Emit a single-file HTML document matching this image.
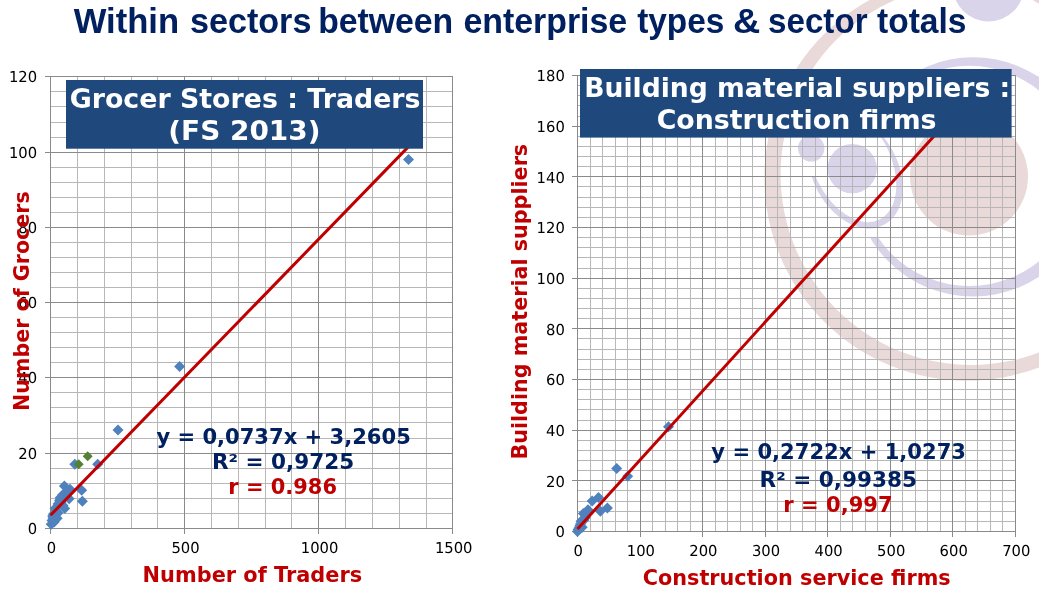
<!DOCTYPE html>
<html lang="en"><head><meta charset="utf-8"><title>Within sectors between enterprise types &amp; sector totals</title>
<style>html,body{margin:0;padding:0;background:#fff;overflow:hidden}svg{display:block}.v{font-family:"DejaVu Sans","Liberation Sans",sans-serif}.t{font-family:"Liberation Sans",sans-serif;font-weight:bold}.b{font-weight:bold}.k{text-rendering:geometricPrecision}</style></head><body>
<svg width="1039" height="600" viewBox="0 0 1039 600">
<rect width="1039" height="600" fill="#fff"/>
<g id="decor">
<clipPath id="cp"><rect x="930" y="0" width="200" height="600"/><rect x="800" y="0" width="200" height="138"/><rect x="800" y="237.5" width="200" height="200"/></clipPath>
<clipPath id="cq"><rect x="861" y="100" width="100" height="200"/><rect x="800" y="177" width="62" height="100"/></clipPath>
<path fill="#EAD9D9" fill-rule="evenodd" d="M764.4000000000001,177.8a202.7,202.7 0 1,0 405.4,0a202.7,202.7 0 1,0 -405.4,0zM780.6,174.5a190.5,190.5 0 1,0 381.0,0a190.5,190.5 0 1,0 -381.0,0z"/>
<circle cx="969" cy="176.5" r="59" fill="#EAD9D9"/>
<g clip-path="url(#cp)"><path fill="#D9D4EA" fill-rule="evenodd" d="M853.5,176.9a119.6,119.6 0 1,0 239.2,0a119.6,119.6 0 1,0 -239.2,0zM859.1999999999999,175.9a110.1,110.1 0 1,0 220.2,0a110.1,110.1 0 1,0 -220.2,0z"/></g>
<circle cx="988.5" cy="-14.2" r="35.7" fill="#D9D4EA"/>
<circle cx="852.2" cy="168.6" r="24.7" fill="#D9D4EA"/>
<circle cx="811.2" cy="148.3" r="13.2" fill="#D9D4EA"/>
<g clip-path="url(#cq)"><path fill="#D9D4EA" fill-rule="evenodd" d="M884.41,224.51A60.86,42.14 61.5 1,0 826.33,117.55A60.86,42.14 61.5 1,0 884.41,224.51zM879.52,219.62A62.01,38.58 63.8 1,0 824.76,108.34A62.01,38.58 63.8 1,0 879.52,219.62z"/></g>
<circle cx="1052" cy="-25" r="31.5" fill="#EAD9D9"/>
</g>
<g id="left">
<path d="M50.5,76.8V528.9M77.5,76.8V528.9M104.5,76.8V528.9M131.5,76.8V528.9M157.5,76.8V528.9M184.5,76.8V528.9M211.5,76.8V528.9M238.5,76.8V528.9M265.5,76.8V528.9M291.5,76.8V528.9M318.5,76.8V528.9M345.5,76.8V528.9M372.5,76.8V528.9M399.5,76.8V528.9M426.5,76.8V528.9M452.5,76.8V528.9M50.6,528.5H452.9M50.6,513.5H452.9M50.6,498.5H452.9M50.6,483.5H452.9M50.6,468.5H452.9M50.6,453.5H452.9M50.6,438.5H452.9M50.6,422.5H452.9M50.6,407.5H452.9M50.6,392.5H452.9M50.6,377.5H452.9M50.6,362.5H452.9M50.6,347.5H452.9M50.6,332.5H452.9M50.6,317.5H452.9M50.6,302.5H452.9M50.6,287.5H452.9M50.6,272.5H452.9M50.6,257.5H452.9M50.6,242.5H452.9M50.6,227.5H452.9M50.6,212.5H452.9M50.6,197.5H452.9M50.6,182.5H452.9M50.6,167.5H452.9M50.6,152.5H452.9M50.6,137.5H452.9M50.6,122.5H452.9M50.6,106.5H452.9M50.6,91.5H452.9M50.6,76.5H452.9" stroke="#b7b7b7" stroke-width="1" fill="none" shape-rendering="crispEdges"/>
<path d="M50.5,76.8V533.9M184.5,76.8V533.9M318.5,76.8V533.9M452.5,76.8V533.9M45.1,528.5H452.9M45.1,453.5H452.9M45.1,377.5H452.9M45.1,302.5H452.9M45.1,227.5H452.9M45.1,152.5H452.9M45.1,76.5H452.9" stroke="#8a8a8a" stroke-width="1" fill="none" shape-rendering="crispEdges"/>
<text class="v k" transform="translate(37.1,534.3) scale(.985,1)" font-size="15" text-anchor="end" fill="#000">0</text>
<text class="v k" transform="translate(37.1,459.3) scale(.985,1)" font-size="15" text-anchor="end" fill="#000">20</text>
<text class="v k" transform="translate(37.1,383.3) scale(.985,1)" font-size="15" text-anchor="end" fill="#000">40</text>
<text class="v k" transform="translate(37.1,308.3) scale(.985,1)" font-size="15" text-anchor="end" fill="#000">60</text>
<text class="v k" transform="translate(37.1,233.3) scale(.985,1)" font-size="15" text-anchor="end" fill="#000">80</text>
<text class="v k" transform="translate(37.1,158.3) scale(.985,1)" font-size="15" text-anchor="end" fill="#000">100</text>
<text class="v k" transform="translate(37.1,82.3) scale(.985,1)" font-size="15" text-anchor="end" fill="#000">120</text>
<text class="v k" transform="translate(51.4,553.1) scale(.985,1)" font-size="15" text-anchor="middle" fill="#000">0</text>
<text class="v k" transform="translate(185.5,553.1) scale(.985,1)" font-size="15" text-anchor="middle" fill="#000">500</text>
<text class="v k" transform="translate(319.6,553.1) scale(.985,1)" font-size="15" text-anchor="middle" fill="#000">1000</text>
<text class="v k" transform="translate(453.7,553.1) scale(.985,1)" font-size="15" text-anchor="middle" fill="#000">1500</text>
<path d="M408.5,154.0l5.5,5.5l-5.5,5.5l-5.5,-5.5z" fill="#4F81BD"/>
<path d="M179.6,361.0l5.5,5.5l-5.5,5.5l-5.5,-5.5z" fill="#4F81BD"/>
<path d="M118.0,424.5l5.5,5.5l-5.5,5.5l-5.5,-5.5z" fill="#4F81BD"/>
<path d="M74.8,458.7l5.5,5.5l-5.5,5.5l-5.5,-5.5z" fill="#4F81BD"/>
<path d="M97.7,458.7l5.5,5.5l-5.5,5.5l-5.5,-5.5z" fill="#4F81BD"/>
<path d="M64.4,480.5l5.5,5.5l-5.5,5.5l-5.5,-5.5z" fill="#4F81BD"/>
<path d="M70.0,483.8l5.5,5.5l-5.5,5.5l-5.5,-5.5z" fill="#4F81BD"/>
<path d="M81.7,484.7l5.5,5.5l-5.5,5.5l-5.5,-5.5z" fill="#4F81BD"/>
<path d="M82.4,495.8l5.5,5.5l-5.5,5.5l-5.5,-5.5z" fill="#4F81BD"/>
<path d="M69.2,493.2l5.5,5.5l-5.5,5.5l-5.5,-5.5z" fill="#4F81BD"/>
<path d="M60.2,492.2l5.5,5.5l-5.5,5.5l-5.5,-5.5z" fill="#4F81BD"/>
<path d="M62.5,489.5l5.5,5.5l-5.5,5.5l-5.5,-5.5z" fill="#4F81BD"/>
<path d="M66.2,486.5l5.5,5.5l-5.5,5.5l-5.5,-5.5z" fill="#4F81BD"/>
<path d="M64.7,503.0l5.5,5.5l-5.5,5.5l-5.5,-5.5z" fill="#4F81BD"/>
<path d="M55.0,503.0l5.5,5.5l-5.5,5.5l-5.5,-5.5z" fill="#4F81BD"/>
<path d="M58.0,507.5l5.5,5.5l-5.5,5.5l-5.5,-5.5z" fill="#4F81BD"/>
<path d="M52.7,510.5l5.5,5.5l-5.5,5.5l-5.5,-5.5z" fill="#4F81BD"/>
<path d="M57.2,512.7l5.5,5.5l-5.5,5.5l-5.5,-5.5z" fill="#4F81BD"/>
<path d="M52.0,515.0l5.5,5.5l-5.5,5.5l-5.5,-5.5z" fill="#4F81BD"/>
<path d="M54.2,516.5l5.5,5.5l-5.5,5.5l-5.5,-5.5z" fill="#4F81BD"/>
<path d="M51.2,518.7l5.5,5.5l-5.5,5.5l-5.5,-5.5z" fill="#4F81BD"/>
<path d="M58.0,498.5l5.5,5.5l-5.5,5.5l-5.5,-5.5z" fill="#4F81BD"/>
<path d="M61.0,497.0l5.5,5.5l-5.5,5.5l-5.5,-5.5z" fill="#4F81BD"/>
<path d="M56.0,505.5l5.5,5.5l-5.5,5.5l-5.5,-5.5z" fill="#4F81BD"/>
<path d="M53.5,508.5l5.5,5.5l-5.5,5.5l-5.5,-5.5z" fill="#4F81BD"/>
<path d="M59.5,495.0l5.5,5.5l-5.5,5.5l-5.5,-5.5z" fill="#4F81BD"/>
<path d="M63.0,500.0l5.5,5.5l-5.5,5.5l-5.5,-5.5z" fill="#4F81BD"/>
<path d="M55.5,514.0l5.5,5.5l-5.5,5.5l-5.5,-5.5z" fill="#4F81BD"/>
<path d="M53.0,512.5l5.5,5.5l-5.5,5.5l-5.5,-5.5z" fill="#4F81BD"/>
<path d="M78.7,459.2l5.0,5.0l-5.0,5.0l-5.0,-5.0z" fill="#548235"/>
<path d="M87.7,451.3l5.0,5.0l-5.0,5.0l-5.0,-5.0z" fill="#548235"/>
<line x1="51.5" y1="514.3" x2="407.3" y2="147.9" stroke="#C00000" stroke-width="3" stroke-linecap="round"/>
<rect x="66" y="80" width="357" height="68.7" fill="#1F497D"/>
<text class="v b" x="69.69" y="108" font-size="26.67" textLength="350.88" lengthAdjust="spacingAndGlyphs" fill="#fff">Grocer Stores : Traders</text>
<text class="v b" x="168.30" y="140" font-size="26.67" textLength="152.18" lengthAdjust="spacingAndGlyphs" fill="#fff">(FS 2013)</text>
<text class="v b" x="156.40" y="443.6" font-size="20.7" textLength="254.42" lengthAdjust="spacingAndGlyphs" fill="#002060">y = 0,0737x + 3,2605</text>
<text class="v b" x="211.96" y="468.9" font-size="20.7" textLength="142.19" lengthAdjust="spacingAndGlyphs" fill="#002060">R² = 0,9725</text>
<text class="v b" x="228.29" y="493.7" font-size="20.7" textLength="108.71" lengthAdjust="spacingAndGlyphs" fill="#C00000">r = 0.986</text>
<text class="v b" x="142.62" y="581.7" font-size="21.33" textLength="219.56" lengthAdjust="spacingAndGlyphs" fill="#C00000">Number of Traders</text>
<text class="v b" transform="translate(29.2,410.97) rotate(-90)" font-size="21.33" textLength="219.64" lengthAdjust="spacingAndGlyphs" fill="#C00000">Number of Grocers</text>
</g>
<g id="right">
<path d="M577.5,75.5V531.5M590.5,75.5V531.5M602.5,75.5V531.5M615.5,75.5V531.5M627.5,75.5V531.5M640.5,75.5V531.5M652.5,75.5V531.5M665.5,75.5V531.5M677.5,75.5V531.5M690.5,75.5V531.5M702.5,75.5V531.5M715.5,75.5V531.5M727.5,75.5V531.5M740.5,75.5V531.5M752.5,75.5V531.5M765.5,75.5V531.5M777.5,75.5V531.5M790.5,75.5V531.5M802.5,75.5V531.5M815.5,75.5V531.5M827.5,75.5V531.5M840.5,75.5V531.5M852.5,75.5V531.5M865.5,75.5V531.5M877.5,75.5V531.5M890.5,75.5V531.5M902.5,75.5V531.5M915.5,75.5V531.5M927.5,75.5V531.5M940.5,75.5V531.5M952.5,75.5V531.5M965.5,75.5V531.5M977.5,75.5V531.5M990.5,75.5V531.5M1002.5,75.5V531.5M1015.5,75.5V531.5M577.5,531.5H1015.5M577.5,521.5H1015.5M577.5,511.5H1015.5M577.5,501.5H1015.5M577.5,490.5H1015.5M577.5,480.5H1015.5M577.5,470.5H1015.5M577.5,460.5H1015.5M577.5,450.5H1015.5M577.5,440.5H1015.5M577.5,430.5H1015.5M577.5,420.5H1015.5M577.5,409.5H1015.5M577.5,399.5H1015.5M577.5,389.5H1015.5M577.5,379.5H1015.5M577.5,369.5H1015.5M577.5,359.5H1015.5M577.5,349.5H1015.5M577.5,338.5H1015.5M577.5,328.5H1015.5M577.5,318.5H1015.5M577.5,308.5H1015.5M577.5,298.5H1015.5M577.5,288.5H1015.5M577.5,278.5H1015.5M577.5,268.5H1015.5M577.5,257.5H1015.5M577.5,247.5H1015.5M577.5,237.5H1015.5M577.5,227.5H1015.5M577.5,217.5H1015.5M577.5,207.5H1015.5M577.5,197.5H1015.5M577.5,186.5H1015.5M577.5,176.5H1015.5M577.5,166.5H1015.5M577.5,156.5H1015.5M577.5,146.5H1015.5M577.5,136.5H1015.5M577.5,126.5H1015.5M577.5,116.5H1015.5M577.5,105.5H1015.5M577.5,95.5H1015.5M577.5,85.5H1015.5M577.5,75.5H1015.5" stroke="#b7b7b7" stroke-width="1" fill="none" shape-rendering="crispEdges"/>
<path d="M577.5,75.5V536.5M640.5,75.5V536.5M702.5,75.5V536.5M765.5,75.5V536.5M827.5,75.5V536.5M890.5,75.5V536.5M952.5,75.5V536.5M1015.5,75.5V536.5M572.0,531.5H1015.5M572.0,480.5H1015.5M572.0,430.5H1015.5M572.0,379.5H1015.5M572.0,328.5H1015.5M572.0,278.5H1015.5M572.0,227.5H1015.5M572.0,176.5H1015.5M572.0,126.5H1015.5M572.0,75.5H1015.5" stroke="#8a8a8a" stroke-width="1" fill="none" shape-rendering="crispEdges"/>
<text class="v k" transform="translate(564.8,537.3) scale(.985,1)" font-size="15" text-anchor="end" fill="#000">0</text>
<text class="v k" transform="translate(564.8,486.6) scale(.985,1)" font-size="15" text-anchor="end" fill="#000">20</text>
<text class="v k" transform="translate(564.8,436.0) scale(.985,1)" font-size="15" text-anchor="end" fill="#000">40</text>
<text class="v k" transform="translate(564.8,385.3) scale(.985,1)" font-size="15" text-anchor="end" fill="#000">60</text>
<text class="v k" transform="translate(564.8,334.6) scale(.985,1)" font-size="15" text-anchor="end" fill="#000">80</text>
<text class="v k" transform="translate(564.8,284.0) scale(.985,1)" font-size="15" text-anchor="end" fill="#000">100</text>
<text class="v k" transform="translate(564.8,233.3) scale(.985,1)" font-size="15" text-anchor="end" fill="#000">120</text>
<text class="v k" transform="translate(564.8,182.6) scale(.985,1)" font-size="15" text-anchor="end" fill="#000">140</text>
<text class="v k" transform="translate(564.8,132.0) scale(.985,1)" font-size="15" text-anchor="end" fill="#000">160</text>
<text class="v k" transform="translate(564.8,81.3) scale(.985,1)" font-size="15" text-anchor="end" fill="#000">180</text>
<text class="v k" transform="translate(578.3,556.1) scale(.985,1)" font-size="15" text-anchor="middle" fill="#000">0</text>
<text class="v k" transform="translate(640.9,556.1) scale(.985,1)" font-size="15" text-anchor="middle" fill="#000">100</text>
<text class="v k" transform="translate(703.4,556.1) scale(.985,1)" font-size="15" text-anchor="middle" fill="#000">200</text>
<text class="v k" transform="translate(766.0,556.1) scale(.985,1)" font-size="15" text-anchor="middle" fill="#000">300</text>
<text class="v k" transform="translate(828.6,556.1) scale(.985,1)" font-size="15" text-anchor="middle" fill="#000">400</text>
<text class="v k" transform="translate(891.2,556.1) scale(.985,1)" font-size="15" text-anchor="middle" fill="#000">500</text>
<text class="v k" transform="translate(953.7,556.1) scale(.985,1)" font-size="15" text-anchor="middle" fill="#000">600</text>
<text class="v k" transform="translate(1016.3,556.1) scale(.985,1)" font-size="15" text-anchor="middle" fill="#000">700</text>
<path d="M668.5,421.3l5.5,5.5l-5.5,5.5l-5.5,-5.5z" fill="#4F81BD"/>
<path d="M616.7,462.9l5.5,5.5l-5.5,5.5l-5.5,-5.5z" fill="#4F81BD"/>
<path d="M627.7,470.8l5.5,5.5l-5.5,5.5l-5.5,-5.5z" fill="#4F81BD"/>
<path d="M598.5,492.0l5.5,5.5l-5.5,5.5l-5.5,-5.5z" fill="#4F81BD"/>
<path d="M592.2,495.5l5.5,5.5l-5.5,5.5l-5.5,-5.5z" fill="#4F81BD"/>
<path d="M607.4,502.5l5.5,5.5l-5.5,5.5l-5.5,-5.5z" fill="#4F81BD"/>
<path d="M600.4,505.8l5.5,5.5l-5.5,5.5l-5.5,-5.5z" fill="#4F81BD"/>
<path d="M588.0,504.2l5.5,5.5l-5.5,5.5l-5.5,-5.5z" fill="#4F81BD"/>
<path d="M583.3,508.1l5.5,5.5l-5.5,5.5l-5.5,-5.5z" fill="#4F81BD"/>
<path d="M585.2,512.3l5.5,5.5l-5.5,5.5l-5.5,-5.5z" fill="#4F81BD"/>
<path d="M581.0,515.8l5.5,5.5l-5.5,5.5l-5.5,-5.5z" fill="#4F81BD"/>
<path d="M579.8,520.5l5.5,5.5l-5.5,5.5l-5.5,-5.5z" fill="#4F81BD"/>
<path d="M578.2,524.0l5.5,5.5l-5.5,5.5l-5.5,-5.5z" fill="#4F81BD"/>
<path d="M577.5,525.9l5.5,5.5l-5.5,5.5l-5.5,-5.5z" fill="#4F81BD"/>
<path d="M582.2,521.7l5.5,5.5l-5.5,5.5l-5.5,-5.5z" fill="#4F81BD"/>
<path d="M580.5,518.5l5.5,5.5l-5.5,5.5l-5.5,-5.5z" fill="#4F81BD"/>
<path d="M579.0,522.5l5.5,5.5l-5.5,5.5l-5.5,-5.5z" fill="#4F81BD"/>
<path d="M584.0,514.5l5.5,5.5l-5.5,5.5l-5.5,-5.5z" fill="#4F81BD"/>
<path d="M586.5,508.5l5.5,5.5l-5.5,5.5l-5.5,-5.5z" fill="#4F81BD"/>
<line x1="577.5" y1="528.9" x2="937.3" y2="132.4" stroke="#C00000" stroke-width="3"/>
<rect x="580" y="69" width="431.6" height="68.6" fill="#1F497D"/>
<text class="v b" x="584.20" y="97" font-size="26.67" textLength="426.05" lengthAdjust="spacingAndGlyphs" fill="#fff">Building material suppliers :</text>
<text class="v b" x="656.69" y="129" font-size="26.67" textLength="279.88" lengthAdjust="spacingAndGlyphs" fill="#fff">Construction firms</text>
<text class="v b" x="711.30" y="459.2" font-size="20.7" textLength="254.72" lengthAdjust="spacingAndGlyphs" fill="#002060">y = 0,2722x + 1,0273</text>
<text class="v b" x="759.56" y="486.6" font-size="20.7" textLength="157.50" lengthAdjust="spacingAndGlyphs" fill="#002060">R² = 0,99385</text>
<text class="v b" x="783.28" y="511.6" font-size="20.7" textLength="109.44" lengthAdjust="spacingAndGlyphs" fill="#C00000">r = 0,997</text>
<text class="v b" x="642.73" y="585" font-size="21.33" textLength="307.95" lengthAdjust="spacingAndGlyphs" fill="#C00000">Construction service firms</text>
<text class="v b" transform="translate(527,459.57) rotate(-90)" font-size="21.33" textLength="315.74" lengthAdjust="spacingAndGlyphs" fill="#C00000">Building material suppliers</text>
</g>
<text class="t" id="title" y="32.7" font-size="34.4" fill="#002060"><tspan x="73.70" textLength="105.42" lengthAdjust="spacingAndGlyphs">Within</tspan> <tspan x="189.91" textLength="121.51" lengthAdjust="spacingAndGlyphs">sectors</tspan> <tspan x="318.14" textLength="135.14" lengthAdjust="spacingAndGlyphs">between</tspan> <tspan x="463.42" textLength="163.79" lengthAdjust="spacingAndGlyphs">enterprise</tspan> <tspan x="637.20" textLength="87.19" lengthAdjust="spacingAndGlyphs">types</tspan> <tspan x="732.90" textLength="27.32" lengthAdjust="spacingAndGlyphs">&amp;</tspan> <tspan x="768.04" textLength="99.53" lengthAdjust="spacingAndGlyphs">sector</tspan> <tspan x="877.00" textLength="89.50" lengthAdjust="spacingAndGlyphs">totals</tspan></text>
</svg></body></html>
